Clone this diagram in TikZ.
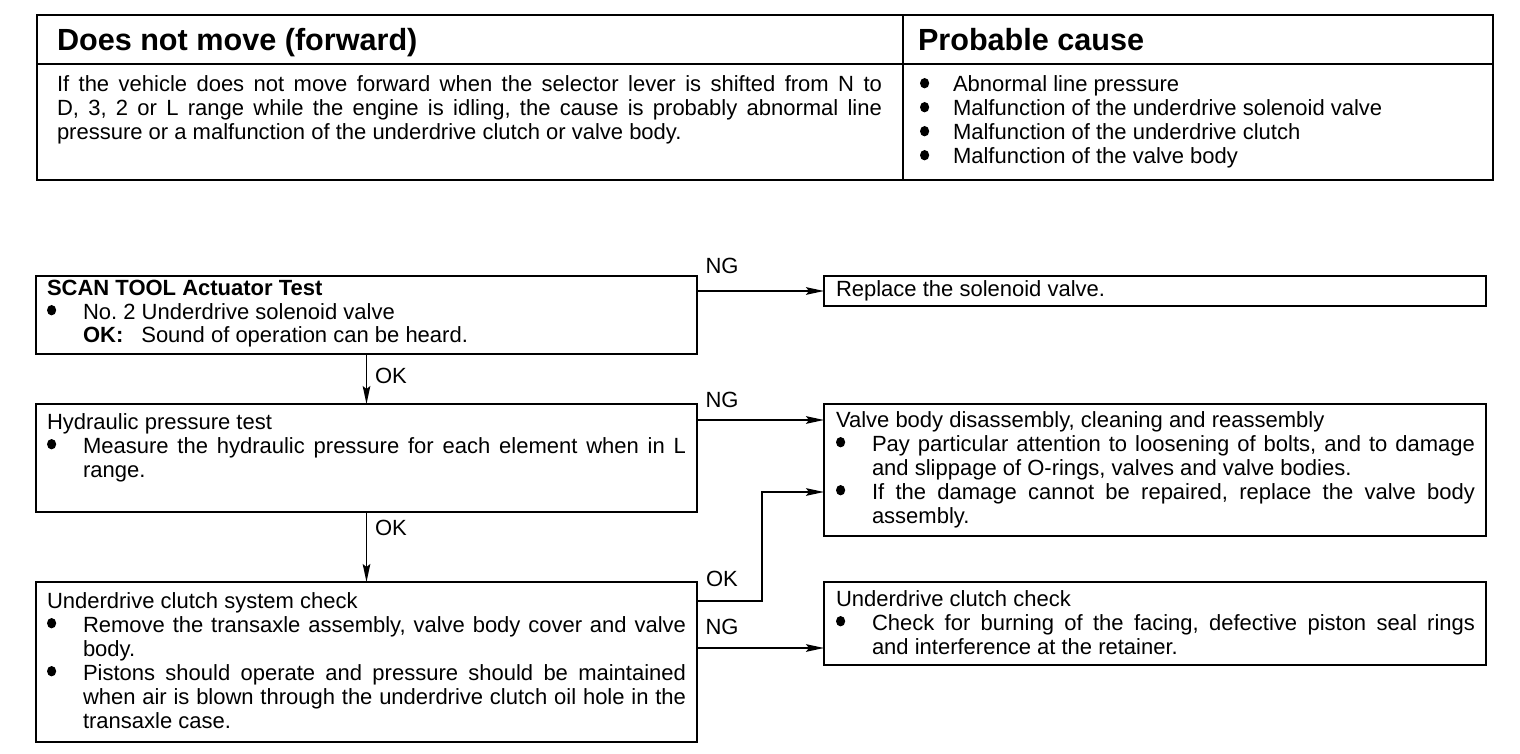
\documentclass[tikz,border=0pt]{standalone}
\usepackage{fontspec}
\usepackage{graphicx}
\setmainfont{Liberation Sans}
\usetikzlibrary{arrows.meta,calc}
\frenchspacing
\newdimen\bind
\bind=18pt
\newdimen\fullw
\fullw=319.5pt
\newdimen\partw
\newcommand\mytxtfont{\fontsize{11}{12}\selectfont\spaceskip=3.06pt plus 4pt minus 1pt\relax}
\newcommand\mybul{\tikz[baseline=0pt]\fill (2.6pt,4.4pt) ellipse (2.3pt and 2.6pt);}
\newcommand\myJL[1]{\hbox to \fullw{#1}}
\newcommand\myBJ[1]{\partw=\fullw \advance\partw by -\bind \hbox to \fullw{\hbox to \bind{\mybul\hss}\hbox to \partw{#1}}}
\newcommand\myIJ[1]{\partw=\fullw \advance\partw by -\bind \hbox to \fullw{\hskip\bind\hbox to \partw{#1}}}
\newcommand\myBL[1]{\hbox{\hbox to \bind{\mybul\hss}#1}}
\newcommand\myIL[1]{\hbox{\hskip\bind #1}}
\newcommand\myPL[1]{\hbox{#1}}
\newcommand\myblock[1]{\vtop{\baselineskip=12pt \lineskiplimit=-20pt #1}}
\tikzset{
  box/.style={draw, line width=1pt, rectangle, inner sep=0pt, outer sep=0pt, anchor=north west},
  cell/.style={draw, line width=1pt, rectangle, inner sep=0pt, outer sep=0pt, anchor=north west},
  txt/.style={inner sep=0pt, outer sep=0pt, anchor=base west, font=\mytxtfont},
  head/.style={inner sep=0pt, outer sep=0pt, anchor=base west, font=\fontsize{15.3}{18}\selectfont\bfseries},
  lab/.style={inner sep=0pt, outer sep=0pt, font=\fontsize{11}{12}\selectfont},
  arr/.style={draw, line width=0.8pt, -{Stealth[length=9pt,width=3.8pt,inset=1.5pt]}},
  conn/.style={draw, line width=0.8pt}
}
\begin{document}
\begin{tikzpicture}[x=0.5pt,y=-0.5pt]
\useasboundingbox (0,0) rectangle (1520,754);
% top table
\node[cell, minimum width=433pt, minimum height=24.5pt] (t1) at (37,15) {};
\node[cell, minimum width=295pt, minimum height=24.5pt] (t2) at (903,15) {};
\node[cell, minimum width=433pt, minimum height=58pt] (t3) at (37,64) {};
\node[cell, minimum width=295pt, minimum height=58pt] (t4) at (903,64) {};
\node[head] (h1) at (57,51) {Does not move (forward)};
\node[head] (h2) at (918,51) {Probable cause};
\node[txt] (p1) at (57,92) {\fullw=412.5pt\myblock{%
\myJL{If the vehicle does not move forward when the selector lever is shifted from N to}%
\myJL{D, 3, 2 or L range while the engine is idling, the cause is probably abnormal line}%
\myPL{pressure or a malfunction of the underdrive clutch or valve body.}}};
\node[txt] (p2) at (920,92) {\bind=16.5pt\myblock{%
\myBL{Abnormal line pressure}%
\myBL{Malfunction of the underdrive solenoid valve}%
\myBL{Malfunction of the underdrive clutch}%
\myBL{Malfunction of the valve body}}};
% flow boxes
\node[box, minimum width=330.5pt, minimum height=39pt] (b1) at (36,276) {};
\node[box, minimum width=330.5pt, minimum height=54pt] (b2) at (36,404) {};
\node[box, minimum width=330.5pt, minimum height=80pt] (b3) at (36,582) {};
\node[box, minimum width=331pt, minimum height=15pt] (r1) at (824,276) {};
\node[box, minimum width=331pt, minimum height=66pt] (r2) at (824,404) {};
\node[box, minimum width=331pt, minimum height=41.5pt] (r3) at (824,582) {};
% texts
\node[txt] (x1) at (47,295) {\myblock{%
\myPL{\textbf{SCAN TOOL Actuator Test}}%
\myBL{No. 2 Underdrive solenoid valve}%
\myIL{\textbf{OK:}\hspace{9pt}Sound of operation can be heard.}}};
\node[txt] (x2) at (47,429) {\myblock{%
\myPL{Hydraulic pressure test}%
\myBJ{Measure the hydraulic pressure for each element when in L}%
\myIL{range.}}};
\node[txt] (x3) at (47,608) {\myblock{%
\myPL{Underdrive clutch system check}%
\myBJ{Remove the transaxle assembly, valve body cover and valve}%
\myIL{body.}%
\myBJ{Pistons should operate and pressure should be maintained}%
\myIJ{when air is blown through the underdrive clutch oil hole in the}%
\myIL{transaxle case.}}};
\node[txt] (y1) at (836,296) {Replace the solenoid valve.};
\node[txt] (y2) at (836,427) {\myblock{%
\myPL{Valve body disassembly, cleaning and reassembly}%
\myBJ{Pay particular attention to loosening of bolts, and to damage}%
\myIL{and slippage of O-rings, valves and valve bodies.}%
\myBJ{If the damage cannot be repaired, replace the valve body}%
\myIL{assembly.}}};
\node[txt] (y3) at (836,606) {\myblock{%
\myPL{Underdrive clutch check}%
\myBJ{Check for burning of the facing, defective piston seal rings}%
\myIL{and interference at the retainer.}}};
% labels
\node[lab, anchor=base] (l1) at (722,274) {NG};
\node[lab, anchor=base] (l2) at (722,407) {NG};
\node[lab, anchor=base west] (l3) at (375,383) {OK};
\node[lab, anchor=base west] (l4) at (375,535) {OK};
\node[lab, anchor=base] (l5) at (722,586) {OK};
\node[lab, anchor=base] (l6) at (722,634) {NG};
% connectors
\draw[arr] (b1.east |- r1.west) -- (r1.west);
\draw[arr] (b1.south) -- (b2.north);
\draw[arr] (b2.south) -- (b3.north);
\coordinate (c2) at ($(b2.north east)+(0,16)$);
\draw[arr] (c2) -- (c2 -| r2.west);
\coordinate (c3) at ($(b3.north east)+(0,19)$);
\coordinate (c4) at ($(r2.north west)+(0,88)$);
\draw[arr] (c3) -- ++(65,0) |- (c4);
\coordinate (c5) at ($(b3.north east)+(0,66)$);
\draw[arr] (c5) -- (c5 -| r3.west);
\end{tikzpicture}
\end{document}
